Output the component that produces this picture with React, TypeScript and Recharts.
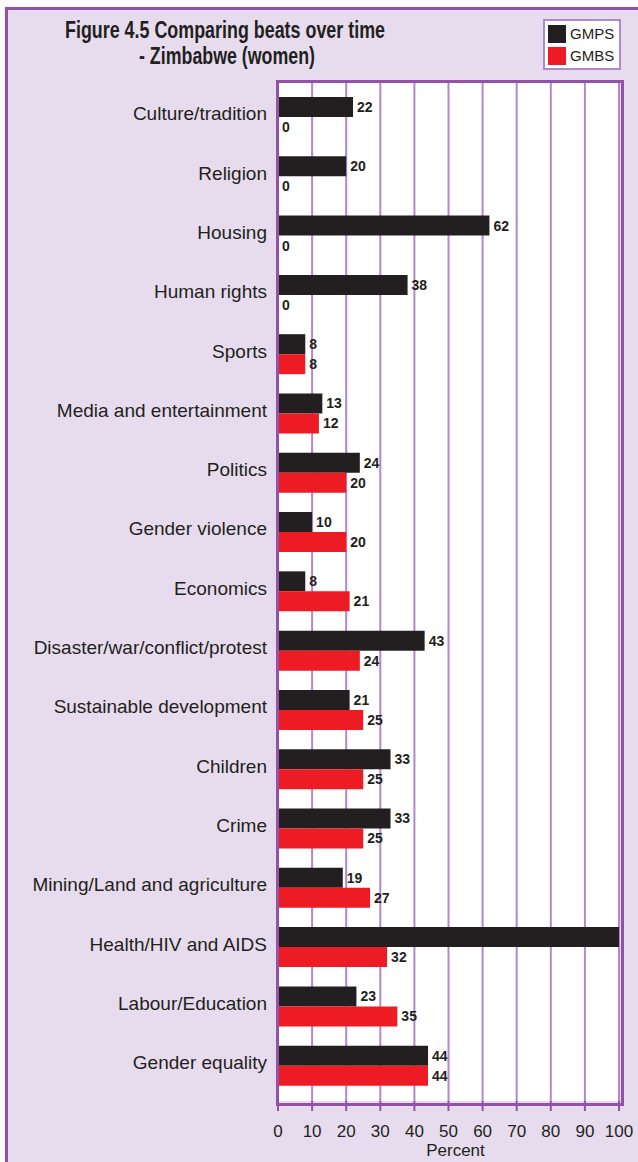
import React from 'react';
import { BarChart, Bar, XAxis, YAxis, CartesianGrid, LabelList, Label } from 'recharts';

const categories = [
  'Culture/tradition',
  'Religion',
  'Housing',
  'Human rights',
  'Sports',
  'Media and entertainment',
  'Politics',
  'Gender violence',
  'Economics',
  'Disaster/war/conflict/protest',
  'Sustainable development',
  'Children',
  'Crime',
  'Mining/Land and agriculture',
  'Health/HIV and AIDS',
  'Labour/Education',
  'Gender equality',
];

const gmps = [22, 20, 62, 38, 8, 13, 24, 10, 8, 43, 21, 33, 33, 19, 100, 23, 44];
const gmbs = [0, 0, 0, 0, 8, 12, 20, 20, 21, 24, 25, 25, 25, 27, 32, 35, 44];

const xTicks = [0, 10, 20, 30, 40, 50, 60, 70, 80, 90, 100];

const series = [
  { key: 'gmps', name: 'GMPS', color: '#231f20' },
  { key: 'gmbs', name: 'GMBS', color: '#ed1c24' },
];

const data = categories.map((name, i) => ({ name, gmps: gmps[i], gmbs: gmbs[i] }));

const W = 638;
const H = 1162;
const PLOT = { left: 278, top: 82, right: 619, bottom: 1101 };
const FRAME = '#9152a8';
const GRID = '#b388c8';
const BG = '#e6dced';
const INK = '#231f20';
const FONT = '"Liberation Sans", Arial, Helvetica, sans-serif';

export default function App() {
  const yAxisWidth = 270;
  const xAxisHeight = H - PLOT.bottom;

  return (
    <div style={{ position: 'absolute', left: 0, top: 0, width: W, height: H, overflow: 'hidden', background: '#fff', fontFamily: FONT }}>
      {/* lavender frame */}
      <div style={{ position: 'absolute', left: 5, top: 7, width: W + 20, height: H + 20, background: BG, border: `3px solid ${FRAME}` }} />

      {/* title */}
      <svg width={W} height={80} style={{ position: 'absolute', left: 0, top: 0 }}>
        <text x={225} y={38} textAnchor="middle" fontSize={23} fontWeight="bold" fill={INK} fontFamily={FONT}
          textLength={320} lengthAdjust="spacingAndGlyphs">
          Figure 4.5 Comparing beats over time
        </text>
        <text x={227} y={64} textAnchor="middle" fontSize={23} fontWeight="bold" fill={INK} fontFamily={FONT}
          textLength={176} lengthAdjust="spacingAndGlyphs">
          - Zimbabwe (women)
        </text>
      </svg>

      {/* legend */}
      <div style={{ position: 'absolute', left: 543, top: 19, width: 74, height: 47, background: '#fff', border: `2px solid ${GRID}` }}>
        {series.map((s, i) => (
          <div key={s.key} style={{ position: 'absolute', left: 3, top: 4 + i * 22, display: 'flex', alignItems: 'center', height: 18 }}>
            <div style={{ width: 18, height: 18, background: s.color }} />
            <span style={{ marginLeft: 4, fontSize: 15, color: INK, lineHeight: '18px' }}>{s.name}</span>
          </div>
        ))}
      </div>

      <div style={{ position: 'absolute', left: 0, top: 0 }}>
        <BarChart
          width={W}
          height={H}
          data={data}
          layout="vertical"
          barSize={20}
          barGap={0}
          margin={{ top: PLOT.top, left: PLOT.left - yAxisWidth, right: W - PLOT.right, bottom: 0 }}
          style={{ fontFamily: FONT }}
        >
          <CartesianGrid horizontal={false} fill="#ffffff" stroke={GRID} strokeWidth={2} />
          <XAxis
            type="number"
            domain={[0, 100]}
            ticks={xTicks}
            allowDataOverflow
            height={xAxisHeight}
            axisLine={false}
            tickLine={{ stroke: FRAME, strokeWidth: 2 }}
            tickSize={10}
            tickMargin={14}
            tick={{ fontSize: 17, fill: INK }}
          >
            <Label value="Percent" position="insideBottom" offset={6} dx={7} style={{ fontSize: 17, fill: INK }} />
          </XAxis>
          <YAxis
            type="category"
            dataKey="name"
            width={yAxisWidth}
            axisLine={false}
            tickLine={false}
            tickSize={0}
            tickMargin={11}
            interval={0}
            padding={{ top: 5, bottom: 6 }}
            tick={{ fontSize: 19, fill: INK, dy: -3 }}
          />
          {series.map((s) => (
            <Bar key={s.key} dataKey={s.key} name={s.name} fill={s.color} minPointSize={0.01} isAnimationActive={false}>
              <LabelList
                dataKey={s.key}
                position="right"
                offset={4}
                formatter={(v: any) => (v >= 100 ? '' : String(v))}
                fontSize={14}
                fontWeight="bold"
                fill={INK}
              />
            </Bar>
          ))}
        </BarChart>
      </div>

      {/* plot border */}
      <div
        style={{
          position: 'absolute',
          left: PLOT.left - 2,
          top: PLOT.top - 2,
          width: PLOT.right - PLOT.left + 1,
          height: PLOT.bottom - PLOT.top + 1,
          border: `3px solid ${FRAME}`,
          pointerEvents: 'none',
        }}
      />
    </div>
  );
}
